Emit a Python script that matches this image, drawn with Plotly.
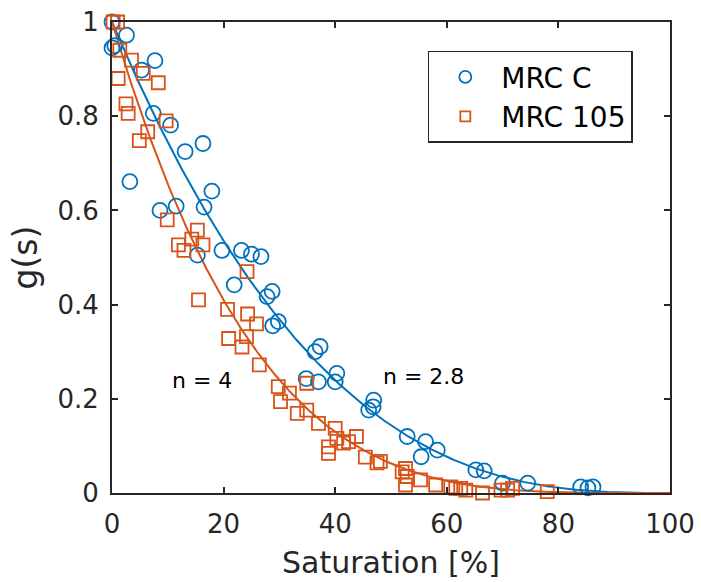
import numpy as np
import plotly.graph_objects as go

# MRC C (blue circles)
sat_c = [0.0, 0.5, 0.0, 2.6, 7.7, 5.3, 7.4, 10.5, 16.3, 13.1, 3.2, 17.9, 8.6, 11.5,
         16.5, 15.3, 19.7, 23.2, 25.0, 26.7, 21.9, 28.7, 27.8, 28.8, 29.8, 37.3,
         36.4, 34.8, 37.0, 40.3, 40.0, 46.9, 46.0, 46.8, 52.9, 56.2, 58.3, 55.4,
         65.2, 66.7, 70.0, 74.5, 84.0, 85.3, 86.2]
g_c = [1.0, 0.95, 0.945, 0.972, 0.918, 0.898, 0.806, 0.781, 0.742, 0.725, 0.661,
       0.641, 0.600, 0.609, 0.607, 0.505, 0.515, 0.515, 0.507, 0.502, 0.442, 0.428,
       0.417, 0.355, 0.364, 0.311, 0.300, 0.243, 0.236, 0.254, 0.236, 0.197, 0.176,
       0.183, 0.120, 0.109, 0.091, 0.077, 0.049, 0.047, 0.021, 0.021, 0.013, 0.011,
       0.013]

# MRC 105 (orange squares)
sat_105 = [0.2, 1.0, 1.4, 3.5, 5.6, 1.1, 8.3, 2.5, 2.9, 9.7, 6.4, 4.9, 9.9, 15.3,
           14.3, 11.9, 12.9, 16.3, 24.2, 15.5, 20.7, 24.3, 25.9, 20.9, 24.1, 23.3,
           26.4, 34.9, 29.8, 31.8, 30.2, 33.2, 34.9, 37.0, 40.0, 43.8, 40.3, 38.8,
           38.8, 41.5, 42.4, 45.4, 48.1, 47.5, 52.0, 52.9, 52.6, 52.6, 55.3, 58.0,
           60.7, 61.6, 62.5, 63.4, 66.4, 69.7, 70.9, 71.8, 78.0]
g_105 = [1.0, 1.0, 0.94, 0.919, 0.891, 0.88, 0.871, 0.826, 0.806, 0.79, 0.767,
         0.748, 0.58, 0.558, 0.539, 0.527, 0.515, 0.527, 0.47, 0.41, 0.39, 0.38,
         0.359, 0.328, 0.332, 0.31, 0.272, 0.233, 0.226, 0.212, 0.194, 0.169, 0.176,
         0.148, 0.137, 0.12, 0.116, 0.098, 0.084, 0.106, 0.109, 0.076, 0.067, 0.064,
         0.045, 0.035, 0.017, 0.052, 0.028, 0.017, 0.013, 0.01, 0.01, 0.006, 0.0,
         0.006, 0.006, 0.01, 0.003]

# fitted exponents: g(s) = (1 - s)^n
n_c = 2.8
n_105 = 4.0

x_ticks = [0, 20, 40, 60, 80, 100]
y_ticks = [0, 0.2, 0.4, 0.6, 0.8, 1]
y_tick_labels = ["0", "0.2", "0.4", "0.6", "0.8", "1"]

BLUE = "#0072BD"
ORANGE = "#D95319"
AX = "#262626"
FONT = "DejaVu Sans, sans-serif"

s_fit = np.linspace(0, 100, 401)

fig = go.Figure()
fig.add_trace(go.Scatter(x=s_fit, y=(1 - s_fit / 100) ** n_c, mode="lines",
                         line=dict(color=BLUE, width=2), showlegend=False))
fig.add_trace(go.Scatter(x=s_fit, y=(1 - s_fit / 100) ** n_105, mode="lines",
                         line=dict(color=ORANGE, width=2), showlegend=False))
fig.add_trace(go.Scatter(x=sat_c, y=g_c, mode="markers", showlegend=False,
                         cliponaxis=False,
                         marker=dict(symbol="circle-open", size=15, color=BLUE,
                                     line=dict(width=1.8, color=BLUE))))
fig.add_trace(go.Scatter(x=sat_105, y=g_105, mode="markers", showlegend=False,
                         cliponaxis=False,
                         marker=dict(symbol="square-open", size=13, color=ORANGE,
                                     line=dict(width=1.8, color=ORANGE))))
# legend entries
fig.add_trace(go.Scatter(x=[None], y=[None], mode="markers", name="MRC C",
                         marker=dict(symbol="circle-open", size=12, color=BLUE,
                                     line=dict(width=1.8, color=BLUE))))
fig.add_trace(go.Scatter(x=[None], y=[None], mode="markers", name="MRC 105",
                         marker=dict(symbol="square-open", size=10, color=ORANGE,
                                     line=dict(width=1.8, color=ORANGE))))

fig.add_annotation(x=16.1, y=0.238, text="n = 4", showarrow=False,
                   font=dict(size=22, color="black", family=FONT))
fig.add_annotation(x=55.8, y=0.248, text="n = 2.8", showarrow=False,
                   font=dict(size=22, color="black", family=FONT))

axis_common = dict(showline=True, linecolor=AX, linewidth=2, mirror="ticks",
                   ticks="inside", ticklen=6, tickwidth=1.5, tickcolor=AX,
                   showgrid=False, zeroline=False, ticklabeloverflow="allow",
                   tickfont=dict(size=26, color=AX, family=FONT))

fig.update_xaxes(range=[0, 100], tickvals=x_ticks, ticklabelstandoff=7,
                 title=dict(text="Saturation [%]", standoff=14,
                            font=dict(size=30, color=AX, family=FONT)),
                 **axis_common)
fig.update_yaxes(range=[0, 1], tickvals=y_ticks, ticktext=y_tick_labels,
                 ticklabelstandoff=6,
                 title=dict(text="g(s)", standoff=10,
                            font=dict(size=33, color=AX, family=FONT)),
                 **axis_common)

fig.update_layout(
    width=701, height=582,
    margin=dict(l=112, r=31, t=22, b=89, autoexpand=False),
    plot_bgcolor="white", paper_bgcolor="white",
    font=dict(family=FONT, color=AX),
    legend=dict(x=0.566, y=0.939, xanchor="left", yanchor="top",
                bgcolor="white", bordercolor=AX, borderwidth=1.5,
                font=dict(size=28, color="black", family=FONT),
                itemwidth=62, tracegroupgap=0,
                entrywidth=205, entrywidthmode="pixels"),
)

fig.write_html("out.html", config={"displayModeBar": False},
               post_script="document.body.style.margin='0';document.body.style.overflow='hidden';")
